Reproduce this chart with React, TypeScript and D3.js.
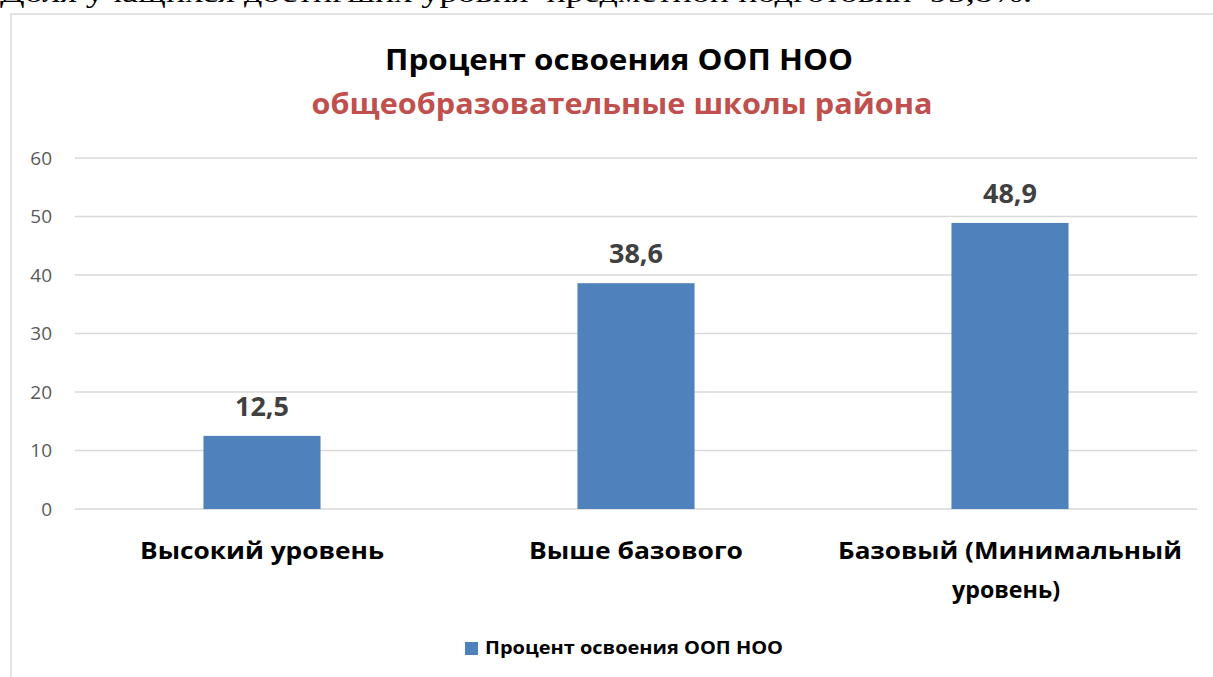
import * as d3 from "d3";

const categories = ["Высокий уровень", "Выше базового", "Базовый (Минимальный уровень)"];
const categoryLines = [["Высокий уровень"], ["Выше базового"], ["Базовый (Минимальный", "уровень)"]];
const categoryLineWidths = [[244], [214], [344, 108]];
const values = [12.5, 38.6, 48.9];
const yTicks = [0, 10, 20, 30, 40, 50, 60];
const seriesName = "Процент освоения ООП НОО";
const title = "Процент освоения ООП НОО";
const subtitle = "общеобразовательные школы района";
const topLine = "Доля учащихся достигших уровня  предметной подготовки  95,8%.";

const W = 1213;
const H = 677;
const plot = { left: 75, right: 1197, top: 158, bottom: 509 };
const font = "'Open Sans', 'Noto Sans', sans-serif";

export default function App() {
  const x = d3
    .scaleBand()
    .domain(categories)
    .range([plot.left, plot.right])
    .paddingInner(0.687)
    .paddingOuter(0.3435);

  const y = d3.scaleLinear().domain([0, 60]).range([plot.bottom, plot.top]);

  const fmt = (v: number) => v.toFixed(1).replace(".", ",");

  return (
    <svg
      width={W}
      height={H}
      style={{ position: "absolute", left: 0, top: 0, background: "#fff" }}
    >
      {/* обрезанная строка текста документа над диаграммой */}
      <text
        x={0}
        y={2}
        fontFamily="'Liberation Serif', 'DejaVu Serif', serif"
        fontSize={28}
        fill="#000"
        textLength={1032}
        lengthAdjust="spacingAndGlyphs"
        style={{ whiteSpace: "pre" }}
      >
        {topLine}
      </text>

      {/* рамка области диаграммы */}
      <rect x={11} y={14} width={W + 20} height={H + 20} fill="#fff" stroke="#D9D9D9" strokeWidth={1.5} />

      {/* заголовок */}
      <text x={619} y={70} textAnchor="middle" fontFamily={font} fontWeight="bold" fontSize={28} fill="#000"
        textLength={468} lengthAdjust="spacingAndGlyphs">
        {title}
      </text>
      <text x={622} y={114} textAnchor="middle" fontFamily={font} fontWeight="bold" fontSize={28} fill="#C0504D"
        textLength={621} lengthAdjust="spacingAndGlyphs">
        {subtitle}
      </text>

      {/* сетка и подписи оси Y */}
      {yTicks.map((t) => (
        <g key={t}>
          <line x1={plot.left} x2={plot.right} y1={y(t)} y2={y(t)} stroke="#D9D9D9" strokeWidth={1.3} />
          <text x={52} y={y(t)} dy="0.36em" textAnchor="end" fontFamily={font} fontSize={19} fill="#595959">
            {t}
          </text>
        </g>
      ))}

      {/* столбцы */}
      {categories.map((c, i) => {
        const bx = x(c) || 0;
        const v = values[i];
        return (
          <g key={c}>
            <rect x={bx} y={y(v)} width={x.bandwidth()} height={y(0) - y(v)} fill="#4F81BD" />
            <text
              x={bx + x.bandwidth() / 2}
              y={y(v) - 20}
              textAnchor="middle"
              fontFamily={font}
              fontWeight="bold"
              fontSize={27}
              fill="#404040"
            >
              {fmt(v)}
            </text>
          </g>
        );
      })}

      {/* подписи категорий */}
      {categories.map((c, i) => {
        const cx = (x(c) || 0) + x.bandwidth() / 2;
        return (
          <g key={c}>
            {categoryLines[i].map((line, j) => (
              <text
                key={j}
                x={cx - (j === 1 ? 4 : 0)}
                y={559 + j * 39}
                textAnchor="middle"
                fontFamily={font}
                fontWeight="bold"
                fontSize={24}
                fill="#000"
                textLength={categoryLineWidths[i][j]}
                lengthAdjust="spacingAndGlyphs"
              >
                {line}
              </text>
            ))}
          </g>
        );
      })}

      {/* легенда */}
      <rect x={465} y={642} width={13} height={13} fill="#4F81BD" />
      <text x={485} y={654} fontFamily={font} fontWeight="bold" fontSize={17} fill="#000"
        textLength={298} lengthAdjust="spacingAndGlyphs">
        {seriesName}
      </text>
    </svg>
  );
}
